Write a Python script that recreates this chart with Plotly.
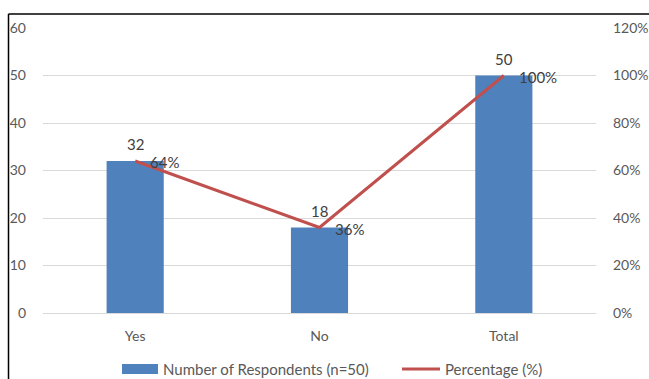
import plotly.graph_objects as go

# Survey responses
categories = ["Yes", "No", "Total"]
respondents = [32, 18, 50]
percentages = [0.64, 0.36, 1.00]

# Left/right axis ticks
count_ticks = [0, 10, 20, 30, 40, 50, 60]
pct_ticks = [0, 0.2, 0.4, 0.6, 0.8, 1.0, 1.2]

BAR_COLOR = "#4F81BD"
LINE_COLOR = "#C0504D"
TEXT_COLOR = "#595959"
LABEL_COLOR = "#404040"
GRID_COLOR = "#D9D9D9"
FONT = "Lato, 'Open Sans', sans-serif"

W, H = 649, 379
L, R, T, B = 43, 53, 28, 66
plot_w = W - L - R
plot_h = H - T - B


def px(x):
    return (x - L) / plot_w


def py(y):
    return (H - B - y) / plot_h


fig = go.Figure()

fig.add_trace(go.Bar(
    x=categories, y=respondents, name="Number of Respondents (n=50)",
    marker=dict(color=BAR_COLOR, line=dict(width=0)),
))

fig.add_trace(go.Scatter(
    x=categories, y=percentages, name="Percentage (%)", yaxis="y2",
    mode="lines", line=dict(color=LINE_COLOR, width=3),
))

annotations = []
# count labels above the bars
for c, v in zip(categories, respondents):
    annotations.append(dict(
        x=c, y=v, xref="x", yref="y", text=str(v), showarrow=False,
        xanchor="center", yanchor="bottom", yshift=6,
        font=dict(size=15, color=LABEL_COLOR, family=FONT),
    ))
# percentage labels to the right of the line points
for c, p in zip(categories, percentages):
    annotations.append(dict(
        x=c, y=p, xref="x", yref="y2", text=f"{p:.0%}", showarrow=False,
        xanchor="left", yanchor="middle", xshift=13, yshift=-1,
        font=dict(size=15, color=LABEL_COLOR, family=FONT),
    ))

# Legend drawn below the plot
annotations += [
    dict(x=px(161), y=py(369), xref="paper", yref="paper",
         text="Number of Respondents (n=50)", showarrow=False,
         xanchor="left", yanchor="middle",
         font=dict(size=15, color=TEXT_COLOR, family=FONT)),
    dict(x=px(443), y=py(369), xref="paper", yref="paper",
         text="Percentage (%)", showarrow=False,
         xanchor="left", yanchor="middle",
         font=dict(size=15, color=TEXT_COLOR, family=FONT)),
]

shapes = [
    dict(type="rect", xref="paper", yref="paper",
         x0=px(122), x1=px(158), y0=py(374), y1=py(364),
         fillcolor=BAR_COLOR, line=dict(width=0)),
    dict(type="line", xref="paper", yref="paper",
         x0=px(402), x1=px(440), y0=py(369), y1=py(369),
         line=dict(color=LINE_COLOR, width=3)),
    # chart frame
    dict(type="line", xref="paper", yref="paper",
         x0=px(8.5), x1=px(8.5), y0=py(14), y1=py(400),
         line=dict(color="black", width=1.5)),
    dict(type="line", xref="paper", yref="paper",
         x0=px(8.5), x1=px(660), y0=py(14), y1=py(14),
         line=dict(color="black", width=1.5)),
]

fig.update_layout(
    width=W, height=H,
    margin=dict(l=L, r=R, t=T, b=B, pad=0, autoexpand=False),
    paper_bgcolor="white", plot_bgcolor="white",
    showlegend=False,
    bargap=0.69,
    font=dict(family=FONT, size=14, color=TEXT_COLOR),
    xaxis=dict(
        showgrid=False, showline=True, linecolor=GRID_COLOR, linewidth=1,
        ticks="", ticklabelstandoff=10, automargin=False,
        tickfont=dict(size=14, color=TEXT_COLOR),
    ),
    yaxis=dict(
        range=[0, 60], tickvals=count_ticks, showgrid=True,
        gridcolor=GRID_COLOR, gridwidth=1, zeroline=False,
        showline=False, ticks="", ticklabelstandoff=16, automargin=False,
        tickfont=dict(size=14, color=TEXT_COLOR),
    ),
    yaxis2=dict(
        range=[0, 1.2], tickvals=pct_ticks, tickformat=".0%",
        overlaying="y", side="right", showgrid=False, zeroline=False,
        showline=False, ticks="", ticklabelstandoff=16, automargin=False,
        tickfont=dict(size=14, color=TEXT_COLOR),
    ),
    annotations=annotations,
    shapes=shapes,
)

fig.write_html("out.html")
